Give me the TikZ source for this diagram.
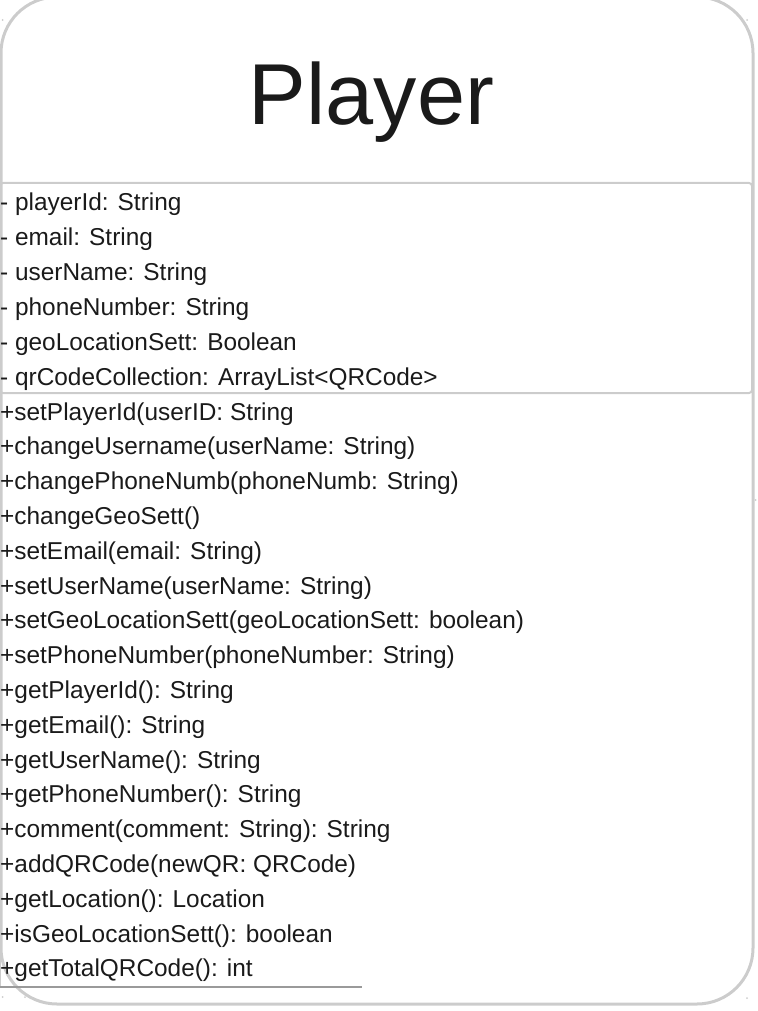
\documentclass[tikz,border=0pt]{standalone}
\usepackage{fontspec}
\setmainfont{Liberation Sans}
\usetikzlibrary{calc}
\definecolor{ink}{HTML}{1A1A1A}
\definecolor{framegrey}{HTML}{CCCCCC}
\definecolor{rulegrey}{HTML}{9A9A9A}
\begin{document}
\begin{tikzpicture}[x=1pt,y=-1pt,
  member/.style={anchor=base west,inner sep=0pt,text=ink,font=\fontsize{24.4}{24.4}\selectfont}]
\useasboundingbox (0,0) rectangle (757,1011);
\draw[framegrey,line width=3pt,rounded corners=56pt] (1,-3) rectangle (753,1004);
\node[anchor=base,inner sep=0pt,text=ink,font=\fontsize{86.5}{86.5}\selectfont] (title) at (371.5,125) {Player};
% attribute compartment
\draw[framegrey,line width=2pt,rounded corners=3pt] (0,183) rectangle (752,393);
\foreach \i/\txt in {
    0/{- playerId: String},
    1/{- email: String},
    2/{- userName: String},
    3/{- phoneNumber: String},
    4/{- geoLocationSett: Boolean},
    5/{- qrCodeCollection: ArrayList<QRCode>}%
}{
  \node[member] (attr-\i) at (0,{211+34.9*\i}) {\txt};
}
% operation compartment
\draw[framegrey,line width=2pt] (0,393) -- (0,987);
\draw[rulegrey,line width=1.5pt] (0,987) -- (362,987);
\foreach \i/\txt in {
    0/{+setPlayerId(userID: String},
    1/{+changeUsername(userName: String)},
    2/{+changePhoneNumb(phoneNumb: String)},
    3/{+changeGeoSett()},
    4/{+setEmail(email: String)},
    5/{+setUserName(userName: String)},
    6/{+setGeoLocationSett(geoLocationSett: boolean)},
    7/{+setPhoneNumber(phoneNumber: String)},
    8/{+getPlayerId(): String},
    9/{+getEmail(): String},
    10/{+getUserName(): String},
    11/{+getPhoneNumber(): String},
    12/{+comment(comment: String): String},
    13/{+addQRCode(newQR: QRCode)},
    14/{+getLocation(): Location},
    15/{+isGeoLocationSett(): boolean},
    16/{+getTotalQRCode(): int}%
}{
  \node[member] (meth-\i) at (0,{420+34.8*\i}) {\txt};
}
% selection handles
\foreach \p in {(2.7,20),(747,20),(755.5,500),(1,682),(2.7,997),(25,997),(747,998)}{\fill[framegrey] \p circle (1pt);}
\end{tikzpicture}
\end{document}
